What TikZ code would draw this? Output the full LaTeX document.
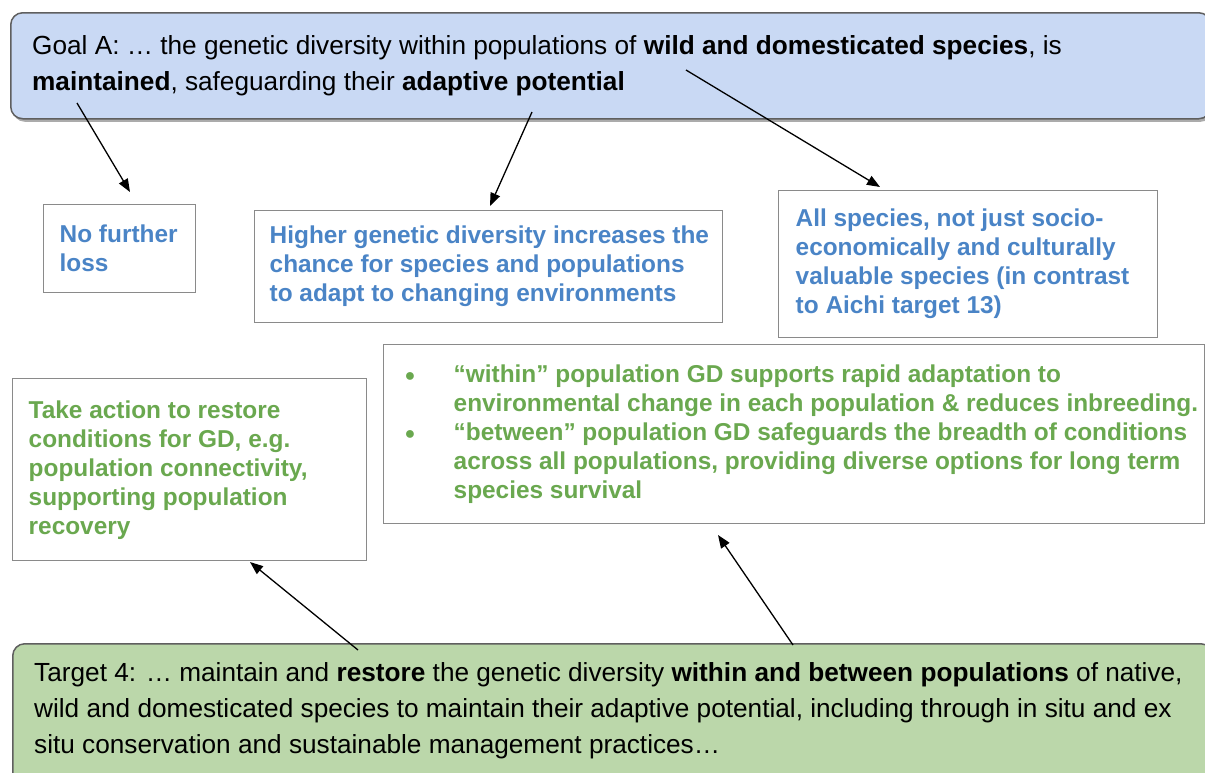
\documentclass[tikz,border=0pt]{standalone}
\usepackage{fontspec}
\setmainfont{Liberation Sans}
\usetikzlibrary{arrows.meta,shadows}
\definecolor{goalfill}{HTML}{C9D9F4}
\definecolor{targetfill}{HTML}{BBD7AA}
\definecolor{edgegray}{HTML}{5F5F5F}
\definecolor{boxgray}{HTML}{8A8A8A}
\definecolor{bluetext}{HTML}{4A84C6}
\definecolor{greentext}{HTML}{6AA84F}
\tikzset{
  banner/.style={draw=edgegray, line width=1.5pt, rounded corners=12pt,
    drop shadow={shadow xshift=2pt, shadow yshift=-3pt, fill=black!55, opacity=0.6},
    anchor=north west, inner xsep=0pt, inner ysep=0pt},
  bannertext/.style={anchor=north west, align=left, inner sep=0pt,
    font=\fontsize{26.2}{36}\selectfont},
  notebox/.style={draw=boxgray, line width=1.4pt, anchor=north west,
    align=left, font=\fontsize{24.4}{29}\selectfont\bfseries,
    inner xsep=0pt, inner ysep=0pt},
  bluenote/.style={notebox, text=bluetext},
  greennote/.style={notebox, text=greentext},
  link/.style={draw=black, line width=1.3pt,
    -{Triangle[length=13pt,width=10pt]}},
}
\begin{document}
\begin{tikzpicture}[x=1pt,y=-1pt]
  \useasboundingbox (0,0) rectangle (1205,772);
  \clip (0,0) rectangle (1205,772);

  % goal and target banners
  \node[banner, fill=goalfill, minimum width=1200pt, minimum height=106pt] (goal) at (10,12) {};
  \node[bannertext] (goaltext) at (32,35)
    {Goal A: … the genetic diversity within populations of \textbf{wild and domesticated species}, is\\
     \textbf{maintained}, safeguarding their \textbf{adaptive potential}};

  \node[banner, fill=targetfill, minimum width=1200pt, minimum height=150pt] (target) at (12,643) {};
  \node[bannertext] (targettext) at (34,662)
    {Target 4: … maintain and \textbf{restore} the genetic diversity \textbf{within and between populations} of native,\\
     wild and domesticated species to maintain their adaptive potential, including through in situ and ex\\
     situ conservation and sustainable management practices…};

  % explanatory boxes (blue)
  \node[bluenote, minimum width=152pt, minimum height=88pt] (noloss) at (43,204)
    {\hspace*{16pt}\raisebox{1pt}{\parbox[c][88pt][c]{136pt}{No further\\ loss}}};
  \node[bluenote, minimum width=468pt, minimum height=112pt] (adapt) at (254,210)
    {\hspace*{15pt}\raisebox{-4pt}{\parbox[c][112pt][c]{453pt}{Higher genetic diversity increases the\\
     chance for species and populations\\ to adapt to changing environments}}};
  \node[bluenote, minimum width=379pt, minimum height=147pt] (allsp) at (778,190)
    {\hspace*{17pt}\raisebox{-3pt}{\parbox[c][147pt][c]{362pt}{All species, not just socio-\\
     economically and culturally\\ valuable species (in contrast\\ to Aichi target 13)}}};

  % explanatory boxes (green)
  \node[greennote, minimum width=354pt, minimum height=182pt] (restore) at (12,378)
    {\hspace*{16pt}\parbox[c][180pt][c]{338pt}{Take action to restore\\
     conditions for GD, e.g.\\ population connectivity,\\ supporting population\\ recovery}};
  \node[greennote, minimum width=821pt, minimum height=177pt] (within) at (383,344)
    {\hspace*{21pt}\parbox[c][179pt][c]{800pt}{%
     \makebox[49pt][l]{\raisebox{1pt}{\fontsize{18}{18}\selectfont●}}“within” population GD supports rapid adaptation to\\
     \hspace*{49pt}environmental change in each population \& reduces inbreeding.\\
     \makebox[49pt][l]{\raisebox{1pt}{\fontsize{18}{18}\selectfont●}}“between” population GD safeguards the breadth of conditions\\
     \hspace*{49pt}across all populations, providing diverse options for long term\\
     \hspace*{49pt}species survival}};

  % connector end points
  \coordinate (g1) at (77,103);
  \coordinate (g2) at (532,112);
  \coordinate (g3) at (686,70);
  \coordinate (n1) at (130,192);
  \coordinate (n2) at (490,206);
  \coordinate (n3) at (880,187);
  \coordinate (t1) at (358,650);
  \coordinate (t2) at (793,645);
  \coordinate (r1) at (250,562);
  \coordinate (w1) at (718,535);

  \draw[link] (g1) -- (n1);
  \draw[link] (g2) -- (n2);
  \draw[link] (g3) -- (n3);
  \draw[link] (t1) -- (r1);
  \draw[link] (t2) -- (w1);
\end{tikzpicture}
\end{document}
